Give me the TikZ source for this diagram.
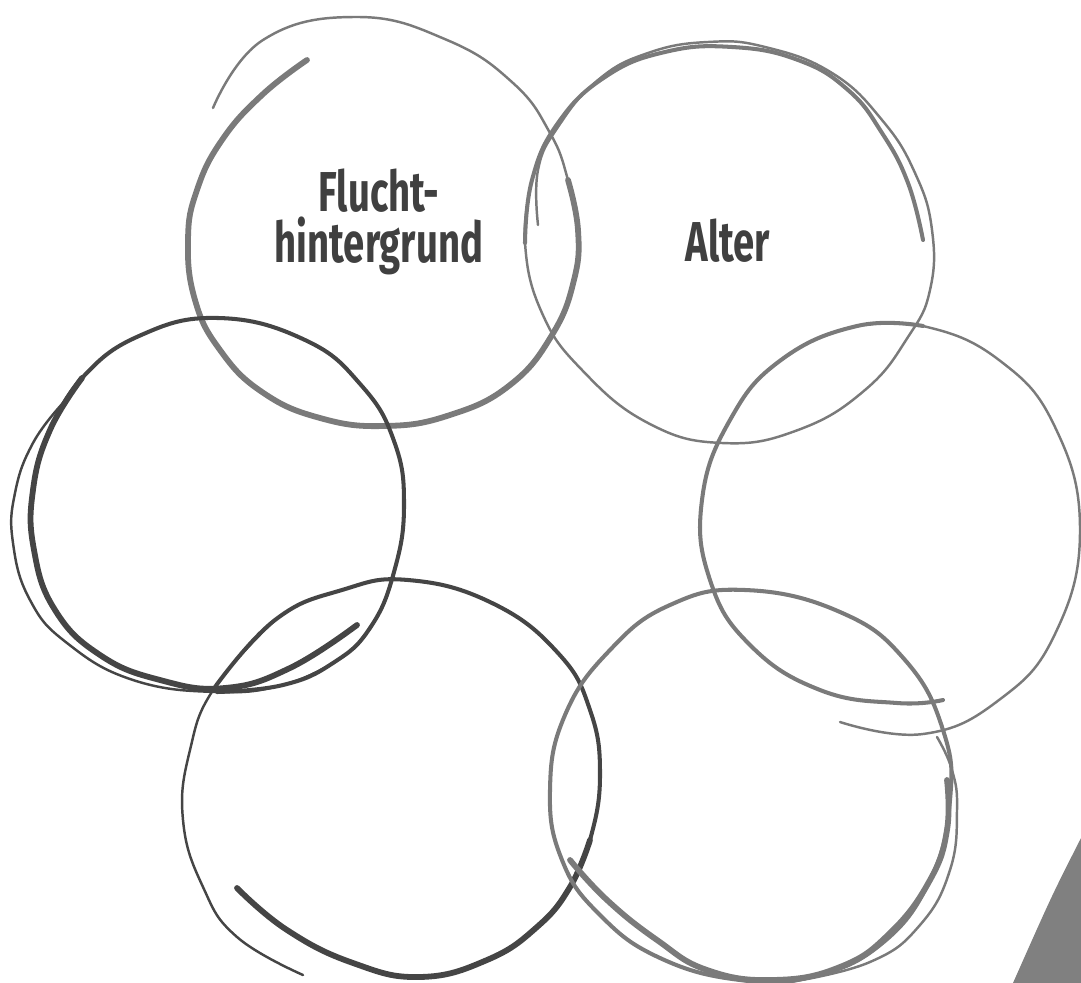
\documentclass[tikz,border=0pt]{standalone}
\usepackage{fontspec}
\setmainfont{Fira Sans}
\usepackage{graphicx}
\usepackage{xcolor}

\definecolor{pen}{HTML}{7A7A7A}
\definecolor{darkpen}{HTML}{454545}
\definecolor{ink}{HTML}{404040}
\definecolor{wedge}{HTML}{808080}
\newcommand{\squeeze}[1]{\scalebox{0.68}[1]{#1}}

\begin{document}
\begin{tikzpicture}[
    x=0.02cm, y=-0.02cm,
    sketch/.style={line width=2.3pt, line cap=round, line join=round},
    sketchthin/.style={sketch, line width=1.4pt},
    sketchbold/.style={sketch, line width=3.3pt},
    ringtext/.style={font=\fontsize{32}{29}\selectfont\bfseries, text=ink, align=center}
]
\useasboundingbox (0,0) rectangle (1081,983);

% Top left ring
\draw[sketchbold, pen] plot[smooth, tension=0.75] coordinates {(307,60) (262,95) (222,140) (197,190) (188,240) (195,300) (220,350) (262,392) (320,418) (385,426) (450,415) (510,385) (552,335) (574,280) (578,230) (568,180)};
\draw[sketchthin, pen] plot[smooth, tension=0.75] coordinates {(578,230) (568,180) (550,133) (513,83) (447,40) (357,17) (263,40) (213,108)};

% Top right ring
\draw[sketchthin, pen] plot[smooth, tension=0.75] coordinates {(538,225) (538,170) (558,127) (598,80) (648,53) (708,42) (765,47) (832,73) (882,120) (915,173) (932,230) (930,290) (908,337) (865,390) (798,430) (722,443) (648,423) (582,370) (542,313) (525,243) (532,180)};
\draw[sketch, pen] plot[smooth, tension=0.75] coordinates {(525,243) (532,180) (558,123) (605,77) (665,52) (732,47) (798,60) (848,90) (882,133) (908,183) (923,240)};

% Middle left ring
\draw[sketchthin, darkpen] plot[smooth, tension=0.75] coordinates {(63,403) (33,443) (15,493) (13,543) (30,600) (67,643) (133,680) (217,692) (283,685) (333,663)};
\draw[sketch, darkpen] plot[smooth, tension=0.75] coordinates {(217,692) (283,685) (333,663) (370,628) (394,572) (404,505) (394,441) (361,385) (305,340) (218,318) (139,336) (82,378) (50,430)};
\draw[sketchbold, darkpen] plot[smooth, tension=0.75] coordinates {(82,378) (50,430) (33,490) (34,550) (55,610) (100,655) (160,680) (225,688) (290,668) (357,625)};

% Middle right ring
\draw[sketchthin, pen] plot[smooth, tension=0.75] coordinates {(840,722) (923,734) (999,700) (1055,634) (1080,530) (1055,427) (999,360) (923,326) (857,326)};
\draw[sketch, pen] plot[smooth, tension=0.75] coordinates {(923,326) (857,326) (781,360) (730,420) (702,500) (710,580) (750,645) (820,690) (897,703) (943,700)};

% Bottom left ring
\draw[sketchbold, darkpen] plot[smooth, tension=0.75] coordinates {(237,888) (287,930) (353,963) (420,977) (487,960) (537,927) (570,887) (590,840)};
\draw[sketch, darkpen] plot[smooth, tension=0.75] coordinates {(570,887) (590,840) (600,775) (590,710) (558,653) (492,603) (408,580) (342,590) (275,620) (215,687)};
\draw[sketchthin, darkpen] plot[smooth, tension=0.75] coordinates {(275,620) (215,687) (190,750) (183,820) (203,887) (237,937) (303,975)};

% Bottom right ring
\draw[sketch, pen] plot[smooth cycle, tension=0.75] coordinates {(745,590) (840,612) (905,660) (943,730) (950,800) (930,880) (880,945) (810,977) (740,980) (660,958) (600,915) (562,860) (550,790) (565,715) (610,650) (670,605)};
\draw[sketchbold, pen] plot[smooth, tension=0.75] coordinates {(570,860) (607,900) (657,940) (707,970) (773,980) (840,967) (890,933) (930,880) (947,830) (947,780)};
\draw[sketchthin, pen] plot[smooth, tension=0.75] coordinates {(937,737) (952,770) (957,810) (950,870) (920,925) (870,962) (790,982)};

% Labels
\node (flucht) [ringtext] at (379,222) {\squeeze{Flucht-}\\\squeeze{hintergrund}};
\node (alter) [ringtext] at (728,241) {\squeeze{Alter}};

% Corner wedge
\fill[wedge] (1081,838) .. controls (1052,895) .. (1013,983) -- (1081,983) -- cycle;

\end{tikzpicture}
\end{document}
